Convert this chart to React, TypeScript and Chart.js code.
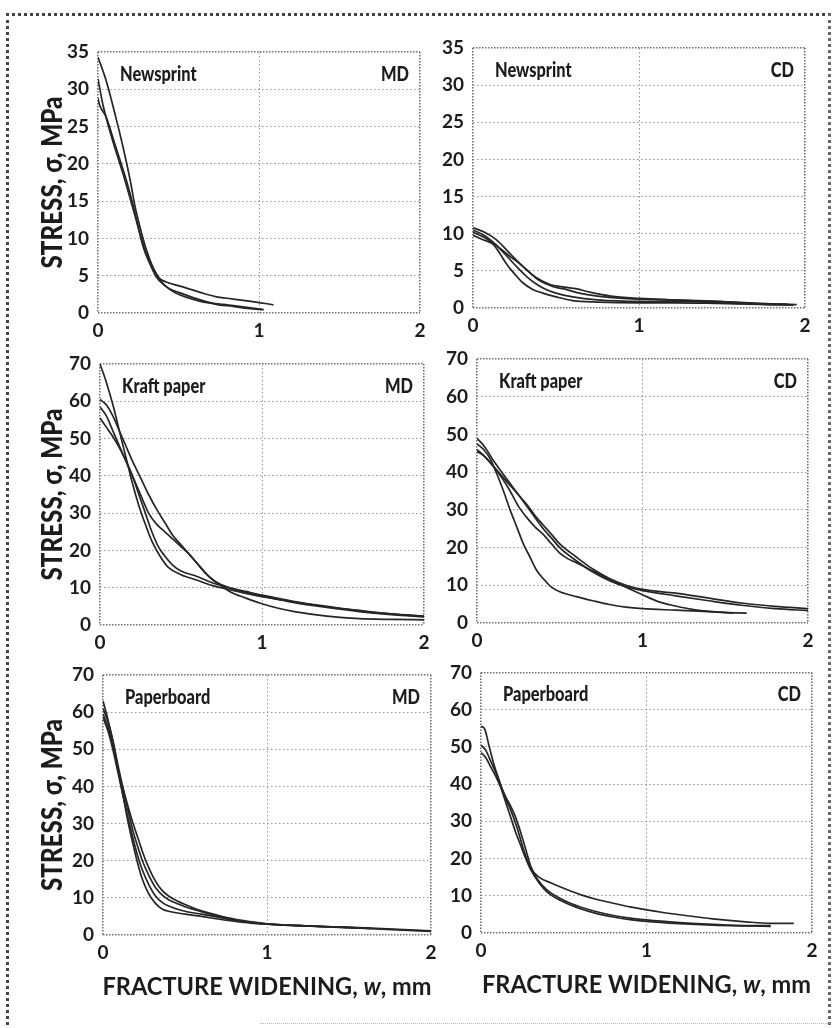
import { useEffect, useRef } from "react";
import { Chart, registerables } from "chart.js";

Chart.register(...registerables);

type Pt = [number, number];

// ---- data: fracture widening w (mm), stress σ (MPa) ----
const newsprintMD_a: Pt[] = [[0,34.3],[0.05,31.2],[0.11,26.3],[0.155,22.3],[0.2,17.8],[0.23,14.3],[0.26,11.6],[0.3,8.5],[0.34,6.2],[0.38,4.7],[0.42,4.2],[0.51,3.6],[0.63,2.8],[0.73,2.2],[0.83,1.9],[0.94,1.6],[1.09,1.1]];
const newsprintMD_b: Pt[] = [[0,31.4],[0.03,28],[0.09,23.2],[0.155,18.7],[0.22,13.8],[0.26,10.7],[0.3,8],[0.36,5.3],[0.42,3.6],[0.51,2.7],[0.63,1.8],[0.75,1.1],[0.84,0.9],[0.93,0.6],[1.03,0.45]];
const newsprintMD_c: Pt[] = [[0,28.8],[0.01,27.9],[0.05,26.3],[0.11,22.3],[0.176,17.8],[0.22,14.3],[0.28,8.9],[0.32,6.7],[0.36,4.9],[0.42,3.6],[0.48,2.7],[0.63,1.6],[0.84,1.0],[1.02,0.5]];

const newsprintCD_a: Pt[] = [[0,10.8],[0.07,10.2],[0.14,9.2],[0.22,7.4],[0.3,5.6],[0.38,4.1],[0.46,3.2],[0.55,2.8],[0.62,2.6],[0.71,2.1],[0.83,1.6],[1.0,1.3],[1.2,1.1],[1.4,0.95],[1.6,0.75],[1.8,0.55],[1.95,0.45]];
const newsprintCD_b: Pt[] = [[0,10.5],[0.08,9.6],[0.16,8.1],[0.22,7.0],[0.28,6.0],[0.34,4.8],[0.4,3.7],[0.48,2.9],[0.56,2.5],[0.64,2.0],[0.75,1.6],[0.9,1.3],[1.1,1.15],[1.3,1.0],[1.5,0.85],[1.7,0.6],[1.9,0.5]];
const newsprintCD_c: Pt[] = [[0,9.8],[0.06,9.2],[0.12,8.6],[0.16,7.4],[0.2,6.0],[0.25,4.6],[0.3,3.4],[0.36,2.5],[0.42,2.0],[0.5,1.5],[0.6,1.0],[0.75,0.8],[1.0,0.7],[1.2,0.7],[1.4,0.65],[1.6,0.55],[1.8,0.45],[1.93,0.4]];
const newsprintCD_d: Pt[] = [[0,10.2],[0.06,9.6],[0.12,8.8],[0.17,7.8],[0.22,6.6],[0.27,5.4],[0.32,4.3],[0.37,3.4],[0.43,2.6],[0.5,2.0],[0.6,1.5],[0.75,1.1],[1.0,0.9],[1.25,0.9],[1.5,0.7],[1.75,0.5],[1.9,0.45]];

const kraftMD_a: Pt[] = [[0,70],[0.04,65],[0.08,59],[0.12,52],[0.16,45],[0.2,38],[0.24,32],[0.28,27],[0.32,22.5],[0.37,18.5],[0.42,15.5],[0.5,13.5],[0.6,12],[0.7,10.5],[0.8,9.5],[0.9,8.5],[1.0,7.6],[1.2,6.2],[1.4,4.9],[1.6,3.9],[1.8,3.0],[2.0,2.4]];
const kraftMD_b: Pt[] = [[0,60.5],[0.04,59],[0.08,56],[0.12,52],[0.16,48],[0.2,44],[0.25,39.5],[0.3,35],[0.35,31],[0.4,27.5],[0.45,24],[0.5,21.5],[0.55,19],[0.6,16.5],[0.65,14],[0.7,12],[0.75,10.5],[0.8,9],[0.9,7.2],[1.0,5.7],[1.1,4.5],[1.2,3.6],[1.4,2.4],[1.6,1.7],[1.8,1.5],[2.0,1.4]];
const kraftMD_c: Pt[] = [[0,58.5],[0.04,56],[0.08,52],[0.12,48],[0.16,44],[0.2,40],[0.25,35],[0.3,30],[0.35,27],[0.4,25],[0.45,23],[0.5,21],[0.55,19],[0.6,16.5],[0.65,14],[0.7,12],[0.75,10.8],[0.8,10],[0.9,8.8],[1.0,7.8],[1.2,6.0],[1.4,4.7],[1.6,3.6],[1.8,2.8],[2.0,2.2]];
const kraftMD_d: Pt[] = [[0,55.5],[0.04,53],[0.08,50.5],[0.12,47.5],[0.16,44],[0.2,40],[0.24,35],[0.28,30],[0.32,25],[0.36,21],[0.4,18.5],[0.45,16],[0.5,14.5],[0.6,13],[0.7,11.2],[0.8,10],[0.9,9],[1.0,8],[1.2,6.3],[1.4,5.0],[1.6,3.8],[1.8,2.9],[2.0,2.3]];

const kraftCD_a: Pt[] = [[0,47.5],[0.04,46],[0.08,43.5],[0.12,39.5],[0.16,35],[0.2,30],[0.24,25.5],[0.28,21],[0.32,17.5],[0.36,14],[0.4,11.8],[0.45,9.5],[0.5,8.3],[0.6,7],[0.7,5.9],[0.8,4.9],[0.9,4.2],[1.0,3.8],[1.2,3.4],[1.4,3.0],[1.55,2.6]];
const kraftCD_b: Pt[] = [[0,46],[0.05,44],[0.1,41.5],[0.15,38.5],[0.2,35],[0.25,31],[0.3,28],[0.35,25.5],[0.4,23.5],[0.45,21],[0.5,18.5],[0.55,17],[0.6,16],[0.7,13.8],[0.8,11.6],[0.9,9.5],[1.0,7.5],[1.1,5.6],[1.2,4.5],[1.3,3.6],[1.4,3.1],[1.5,2.8],[1.63,2.6]];
const kraftCD_c: Pt[] = [[0,49],[0.05,46.5],[0.1,43],[0.15,40],[0.2,37],[0.25,34],[0.3,31.5],[0.35,28.5],[0.4,26],[0.45,23.5],[0.5,21],[0.6,17.5],[0.7,14.3],[0.8,11.8],[0.9,10],[1.0,8.9],[1.2,7.9],[1.4,6.6],[1.6,5.3],[1.8,4.4],[2.0,3.8]];
const kraftCD_d: Pt[] = [[0,45.5],[0.05,44],[0.1,41.5],[0.15,39],[0.2,36.5],[0.25,34],[0.3,31],[0.35,28],[0.4,25],[0.45,22.5],[0.5,20],[0.6,16.5],[0.7,13.5],[0.8,11.2],[0.9,9.6],[1.0,8.6],[1.2,7.2],[1.4,5.9],[1.6,4.7],[1.8,3.8],[2.0,3.3]];

const paperboardMD_a: Pt[] = [[0,63],[0.03,58],[0.06,52],[0.09,45],[0.12,38],[0.15,31],[0.18,25],[0.21,19.5],[0.24,15],[0.28,11],[0.32,8.5],[0.36,7],[0.42,6.2],[0.5,5.6],[0.6,5.0],[0.7,4.3],[0.8,3.7],[0.9,3.2],[1.0,2.9],[1.2,2.5],[1.4,2.2],[1.63,1.8]];
const paperboardMD_b: Pt[] = [[0,61],[0.03,57.5],[0.06,52.5],[0.09,46],[0.12,40],[0.15,35],[0.18,30.5],[0.21,26.5],[0.24,22.5],[0.28,18],[0.32,14.5],[0.36,12],[0.4,10.5],[0.45,9.2],[0.5,8.2],[0.6,6.5],[0.7,5.3],[0.8,4.3],[0.9,3.6],[1.0,3.0],[1.2,2.5],[1.4,2.2],[1.6,1.9],[1.8,1.5],[2.0,1.1]];
const paperboardMD_c: Pt[] = [[0,59.5],[0.03,56],[0.06,51],[0.09,45],[0.12,39.5],[0.15,34],[0.18,28.5],[0.21,24],[0.24,20],[0.28,16],[0.32,12.8],[0.36,10.8],[0.4,9.5],[0.45,8.5],[0.5,7.6],[0.6,6.3],[0.7,5.1],[0.8,4.1],[0.9,3.4],[1.0,2.9],[1.2,2.5],[1.4,2.2],[1.6,1.8],[1.8,1.4],[2.0,1.0]];
const paperboardMD_d: Pt[] = [[0,58.5],[0.03,55],[0.06,50],[0.09,44],[0.12,38],[0.15,32],[0.18,26.5],[0.21,21.5],[0.24,17.5],[0.28,13.5],[0.32,10.5],[0.36,8.8],[0.4,7.8],[0.45,7.0],[0.5,6.4],[0.6,5.6],[0.7,4.8],[0.8,4.0],[0.9,3.4],[1.0,3.0],[1.2,2.5],[1.4,2.1],[1.63,1.8]];

const paperboardCD_a: Pt[] = [[0,55.5],[0.02,55],[0.05,50],[0.08,45],[0.11,41],[0.14,37],[0.18,33],[0.22,28],[0.26,22],[0.3,17.5],[0.35,15],[0.42,13.5],[0.5,12],[0.6,10.3],[0.7,9],[0.8,8],[0.9,7],[1.0,6.2],[1.1,5.5],[1.2,4.9],[1.4,3.8],[1.6,3.0],[1.75,2.6],[1.89,2.6]];
const paperboardCD_b: Pt[] = [[0,50.5],[0.03,49],[0.06,46],[0.09,43],[0.12,39.5],[0.15,36.5],[0.18,34],[0.21,31],[0.24,27],[0.27,22.5],[0.3,18],[0.34,14.5],[0.4,11.5],[0.5,8.8],[0.6,7.0],[0.7,5.7],[0.8,4.7],[0.9,4.0],[1.0,3.5],[1.2,2.8],[1.4,2.3],[1.6,2.0],[1.75,2.0]];
const paperboardCD_c: Pt[] = [[0,48.5],[0.03,47],[0.06,44.5],[0.09,42],[0.12,39],[0.15,35],[0.18,31],[0.21,27],[0.24,23.5],[0.27,20],[0.3,17],[0.35,13.5],[0.4,11],[0.5,8.3],[0.6,6.5],[0.7,5.2],[0.8,4.3],[0.9,3.6],[1.0,3.1],[1.2,2.5],[1.4,2.1],[1.6,1.9],[1.75,1.8]];

const materials = ["Newsprint", "Kraft paper", "Paperboard"];
const directions = ["MD", "CD"];
const stressMax = [35, 70, 70];
const stressStep = [5, 10, 10];
const wMax = 2;
const yTitleText = "STRESS, σ, MPa";
const xTitleParts = ["FRACTURE WIDENING, ", "w", ", mm"];

// ---- layout / style ----
const FONT = 'Lato, "Open Sans", "DejaVu Sans Condensed", sans-serif';
const INK = "#1c1c1c";

type Panel = {
  row: number;
  col: number;
  curves: Pt[][];
  plot: [number, number, number, number]; // L T R B (page px)
  canvas: [number, number, number, number]; // L T R B (page px)
};

const panels: Panel[] = [
  { row: 0, col: 0, curves: [newsprintMD_a, newsprintMD_b, newsprintMD_c], plot: [98, 52, 420, 313], canvas: [0, 18, 452, 345] },
  { row: 0, col: 1, curves: [newsprintCD_a, newsprintCD_b, newsprintCD_c, newsprintCD_d], plot: [473, 48, 805, 308], canvas: [440, 18, 833, 345] },
  { row: 1, col: 0, curves: [kraftMD_a, kraftMD_b, kraftMD_c, kraftMD_d], plot: [100, 364, 424, 625], canvas: [0, 338, 452, 658] },
  { row: 1, col: 1, curves: [kraftCD_a, kraftCD_b, kraftCD_c, kraftCD_d], plot: [477, 359, 808, 623], canvas: [440, 338, 833, 658] },
  { row: 2, col: 0, curves: [paperboardMD_a, paperboardMD_b, paperboardMD_c, paperboardMD_d], plot: [103, 675, 431, 935], canvas: [0, 652, 452, 1028] },
  { row: 2, col: 1, curves: [paperboardCD_a, paperboardCD_b, paperboardCD_c], plot: [481, 670, 812, 933], canvas: [440, 652, 833, 1028] },
];

const panelText = {
  id: "panelText",
  afterDraw(chart: any, _args: any, opts: any) {
    const { ctx, chartArea: a } = chart;
    ctx.save();
    ctx.fillStyle = INK;
    ctx.textBaseline = "alphabetic";
    // panel labels (condensed look)
    ctx.font = `900 21px ${FONT}`;
    const sx = 0.78;
    ctx.save();
    ctx.translate(a.left + 22, a.top + 29);
    ctx.scale(sx, 1);
    ctx.textAlign = "left";
    ctx.fillText(opts.material, 0, 0);
    ctx.restore();
    ctx.save();
    ctx.translate(a.right - 11, a.top + 29);
    ctx.scale(sx, 1);
    ctx.textAlign = "right";
    ctx.fillText(opts.dir, 0, 0);
    ctx.restore();

    if (opts.yTitle) {
      ctx.save();
      ctx.font = `900 28px ${FONT}`;
      const w = ctx.measureText(yTitleText).width;
      ctx.translate(opts.yTitleX, (a.top + a.bottom) / 2);
      ctx.rotate(-Math.PI / 2);
      ctx.scale(172 / w, 1);
      ctx.textAlign = "center";
      ctx.fillText(yTitleText, 0, 10);
      ctx.restore();
    }
    if (opts.xTitle) {
      const fonts = [`bold 25px ${FONT}`, `italic bold 25px ${FONT}`, `bold 25px ${FONT}`];
      const widths = xTitleParts.map((t, i) => {
        ctx.font = fonts[i];
        return ctx.measureText(t).width;
      });
      const total = widths.reduce((s, w) => s + w, 0);
      const k = 329 / total;
      ctx.save();
      ctx.translate((a.left + a.right) / 2 - 329 / 2, a.bottom + 60);
      ctx.scale(k, 1);
      ctx.textAlign = "left";
      let x = 0;
      xTitleParts.forEach((t, i) => {
        ctx.font = fonts[i];
        ctx.fillText(t, x, 0);
        x += widths[i];
      });
      ctx.restore();
    }
    ctx.restore();
  },
};

const isEdge = (c: any) => c.index === 0 || (c.scale && c.index === c.scale.ticks.length - 1);

function PanelChart({ p }: { p: Panel }) {
  const ref = useRef<HTMLCanvasElement | null>(null);
  const [cL, cT, cR, cB] = p.canvas;
  const [L, T, R, B] = p.plot;
  useEffect(() => {
    if (!ref.current) return;
    const gridColor = (c: any) => (isEdge(c) ? "#707070" : "#959595");
    const gridWidth = (c: any) => (isEdge(c) ? 1.6 : 1);
    const gridDash = (c: any) => (isEdge(c) ? [1.5, 1.5] : [1.5, 2.5]);
    const tickFont = { family: FONT, size: 19, weight: "bold" as const };
    const chart = new Chart(ref.current, {
      type: "line",
      data: {
        datasets: p.curves.map((c) => ({
          data: c.map(([x, y]) => ({ x, y })),
          borderColor: "#262626",
          borderWidth: 1.7,
          pointRadius: 0,
          fill: false,
          cubicInterpolationMode: "monotone" as const,
        })),
      },
      options: {
        animation: false,
        responsive: false,
        maintainAspectRatio: false,
        layout: { padding: { top: T - cT, right: cR - R, left: 0, bottom: 0 } },
        plugins: {
          legend: { display: false },
          tooltip: { enabled: false },
          panelText: {
            material: materials[p.row],
            dir: directions[p.col],
            yTitle: p.col === 0,
            yTitleX: 52 - cL,
            xTitle: p.row === 2,
          },
        } as any,
        scales: {
          x: {
            type: "linear",
            min: 0,
            max: wMax,
            ticks: { stepSize: 1, font: tickFont, color: INK, padding: 6 },
            grid: { color: gridColor, lineWidth: gridWidth, drawTicks: false },
            border: { display: false, dash: gridDash },
            afterFit: (s: any) => {
              s.height = cB - B;
            },
          },
          y: {
            type: "linear",
            min: 0,
            max: stressMax[p.row],
            ticks: { stepSize: stressStep[p.row], font: tickFont, color: INK, padding: 9 },
            grid: { color: gridColor, lineWidth: gridWidth, drawTicks: false },
            border: { display: false, dash: gridDash },
            afterFit: (s: any) => {
              s.width = L - cL;
            },
          },
        },
      },
      plugins: [panelText],
    });
    return () => chart.destroy();
  }, []);
  return (
    <canvas
      ref={ref}
      width={cR - cL}
      height={cB - cT}
      style={{ position: "absolute", left: cL, top: cT, width: cR - cL, height: cB - cT }}
    />
  );
}

export default function App() {
  return (
    <div style={{ position: "absolute", left: 0, top: 0, width: 833, height: 1028, background: "#ffffff", overflow: "hidden" }}>
      <div
        style={{
          position: "absolute",
          left: 6,
          top: 13,
          width: 825,
          height: 1030,
          borderTop: "3px dotted #444",
          borderLeft: "3px dotted #444",
          borderRight: "3px dotted #666",
          boxSizing: "border-box",
        }}
      />
      <div style={{ position: "absolute", left: 260, top: 1023, width: 570, height: 0, borderTop: "1px dotted #bbb" }} />
      {panels.map((p, i) => (
        <PanelChart key={i} p={p} />
      ))}
    </div>
  );
}
